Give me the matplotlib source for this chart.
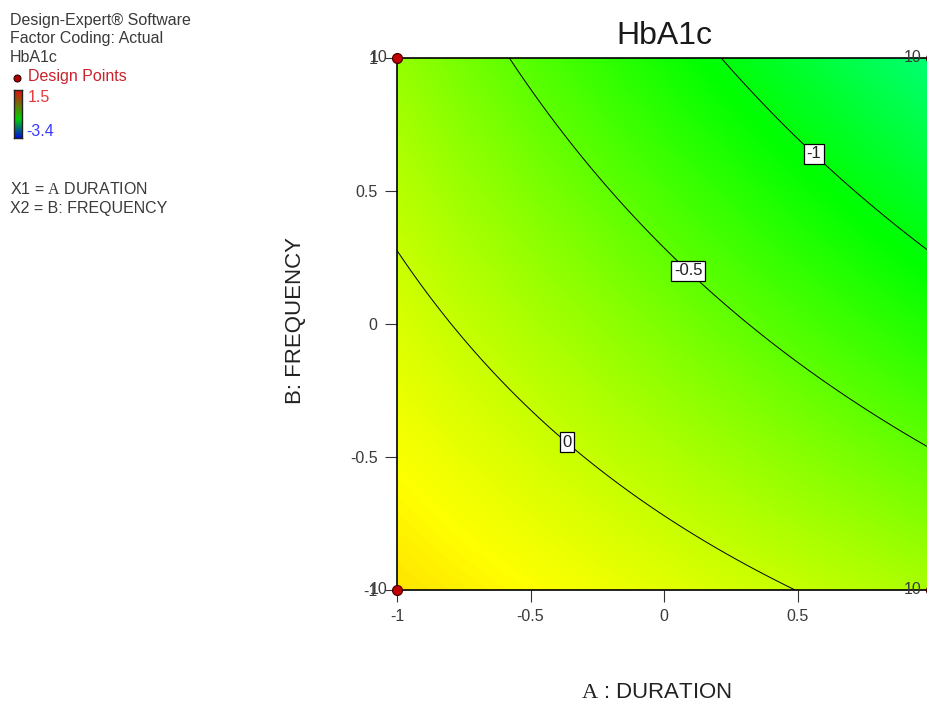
import numpy as np
import matplotlib
matplotlib.use("Agg")
import matplotlib.pyplot as plt
from matplotlib.colors import LinearSegmentedColormap, Normalize

# ------------------------------------------------------------
# Datos (modelo codificado HbA1c)
# ------------------------------------------------------------
coef_names = ["Intercept", "A", "B", "AB", "A^2", "B^2"]
coef_values = [-0.356, -0.453, -0.50, -0.18, -0.008, -0.008]

z_range = [-3.4, 1.5]
contour_levels = [-1.0, -0.5, 0.0]
contour_fmt = {-1.0: "-1", -0.5: "-0.5", 0.0: "0"}

# puntos de diseño (A, B, réplicas)
pts_a = [-1, -1, 1, 1]
pts_b = [-1, 1, -1, 1]
pts_n = [10, 10, 10, 10]

x_ticks = [-1, -0.5, 0, 0.5]
x_tick_labels = ["-1", "-0.5", "0", "0.5"]
y_ticks = [-1, -0.5, 0, 0.5, 1]
y_tick_labels = ["-1", "-0.5", "0", "0.5", "1"]

info_lines = ["Design-Expert® Software", "Factor Coding: Actual", "HbA1c"]

# posiciones aproximadas de las etiquetas de contorno
label_pos = [(0.58, 0.66), (0.10, 0.21), (-0.36, -0.44)]

# ------------------------------------------------------------
# Estilo
# ------------------------------------------------------------
plt.rcParams["font.family"] = ["Liberation Sans", "DejaVu Sans"]
plt.rcParams["mathtext.fontset"] = "custom"
plt.rcParams["mathtext.rm"] = "Liberation Serif"

TXT = "#3a3a3a"
W, H = 928, 702

cmap = LinearSegmentedColormap.from_list(
    "de", ["#0000ff", "#00ffff", "#00ff00", "#ffff00", "#ff0000"])
# la barra pequeña de la leyenda va de rojo a verde a azul
cmap_leg = LinearSegmentedColormap.from_list(
    "leg", [(0.0, "#e01010"), (0.6, "#00d000"), (1.0, "#0010e0")])
norm = Normalize(vmin=z_range[0], vmax=z_range[1])

# ------------------------------------------------------------
# Superficie
# ------------------------------------------------------------
g = np.linspace(-1, 1, 401)
A, B = np.meshgrid(g, g)
b0, bA, bB, bAB, bAA, bBB = coef_values
Z = b0 + bA * A + bB * B + bAB * A * B + bAA * A ** 2 + bBB * B ** 2

fig = plt.figure(figsize=(W / 100, H / 100), dpi=100)
ax = fig.add_axes([397 / W, (H - 590) / H, 534 / W, 532 / H])

ax.imshow(Z, extent=[-1, 1, -1, 1], origin="lower", cmap=cmap, norm=norm,
          aspect="auto", interpolation="bilinear")

cs = ax.contour(A, B, Z, levels=contour_levels, colors="black",
                linewidths=0.7, linestyles="solid")
labels = ax.clabel(cs, fmt=contour_fmt, manual=label_pos, inline=False,
                   fontsize=12, colors="#202020")
for t in labels:
    t.set_rotation(0)
    t.set_bbox(dict(boxstyle="square,pad=0.15", fc="white", ec="black", lw=0.9))
    t.set_zorder(4)

ax.scatter(pts_a, pts_b, s=52, c="#c00000", edgecolors="#400000",
           linewidths=0.8, clip_on=False, zorder=6)
for a, b, n in zip(pts_a, pts_b, pts_n):
    ax.annotate(str(n), (a, b), xytext=(-7, 0), textcoords="offset points",
                ha="right", va="center", fontsize=11.5, color=TXT,
                annotation_clip=False, zorder=6)

ax.set_xlim(-1, 1)
ax.set_ylim(-1, 1)
ax.set_xticks(x_ticks)
ax.set_xticklabels(x_tick_labels)
ax.set_yticks(y_ticks)
ax.set_yticklabels(y_tick_labels)
ax.tick_params(direction="out", length=8.5, width=0.8, color="#333333",
               labelsize=11.5, labelcolor=TXT, pad=5.5)
for s in ax.spines.values():
    s.set_linewidth(1.2)
    s.set_color("black")

ax.set_title("HbA1c", fontsize=23, color="#1a1a1a", pad=10)

ax.set_xlabel(r"$\mathrm{A}$ : DURATION", fontsize=16, color="#222222")
ax.xaxis.set_label_coords((656 - 397) / 534, (590 - 692) / 532)
ax.xaxis.label.set_va("center")
ax.set_ylabel("B: FREQUENCY", fontsize=16, color="#222222")
ax.yaxis.set_label_coords((296 - 397) / 534, (590 - 321) / 532)
ax.yaxis.label.set_va("center")

# ------------------------------------------------------------
# Bloque de información (izquierda)
# ------------------------------------------------------------
for i, line in enumerate(info_lines):
    fig.text(10 / W, 1 - (20 + 19 * i) / H, line, fontsize=11.5, color=TXT,
             va="center", ha="left")

fig.text(28 / W, 1 - 77 / H, "Design Points", fontsize=11.5, color="#c8232c",
         va="center", ha="left")
dot_ax = fig.add_axes([0, 0, 1, 1], facecolor="none")
dot_ax.set_xlim(0, W)
dot_ax.set_ylim(H, 0)
dot_ax.axis("off")
dot_ax.plot([17], [78], "o", ms=5, mfc="#b00000", mec="#300000", mew=0.8)

cb_ax = fig.add_axes([14 / W, 1 - 138 / H, 8 / W, 48 / H])
grad = np.linspace(z_range[1], z_range[0], 100).reshape(-1, 1)
cb_ax.imshow(grad, cmap=cmap_leg.reversed(), norm=norm, aspect="auto")
cb_ax.set_xticks([])
cb_ax.set_yticks([])
for s in cb_ax.spines.values():
    s.set_linewidth(1.0)
    s.set_color("#222222")

fig.text(28 / W, 1 - 97 / H, f"{z_range[1]}", fontsize=11.5, color="#e8383d",
         va="center", ha="left")
fig.text(26 / W, 1 - 132 / H, f"{z_range[0]}", fontsize=11.5, color="#3a3aff",
         va="center", ha="left")

fig.text(10 / W, 1 - 189 / H, r"X1 = $\mathrm{A}$ DURATION", fontsize=11.5,
         color=TXT, va="center", ha="left")
fig.text(10 / W, 1 - 208 / H, "X2 = B: FREQUENCY", fontsize=11.5, color=TXT,
         va="center", ha="left")

fig.savefig("out.png", dpi=100)
